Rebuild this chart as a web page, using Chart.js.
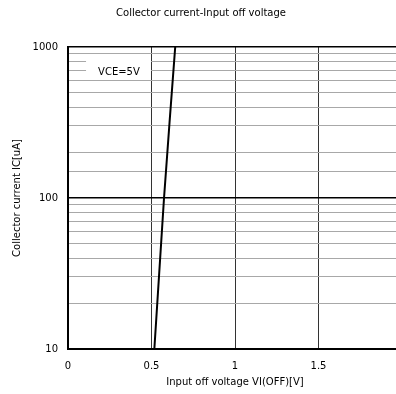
<!DOCTYPE html>
<html>
<head>
<meta charset="utf-8">
<script src="https://cdn.jsdelivr.net/npm/chart.js@4/dist/chart.umd.min.js"></script>
<style>
  html, body { margin: 0; padding: 0; background: #fff; overflow: hidden; }
  #wrap { width: 410px; height: 394px; }
</style>
</head>
<body>
<div id="wrap"><canvas id="chart" width="410" height="394"></canvas></div>
<script>
// curve: input off voltage [V] vs collector current [uA]
const voltage = [0.517, 0.546, 0.575, 0.608, 0.642];
const current = [10, 31.6, 100, 316, 1000];

const xTicks = [0, 0.5, 1, 1.5];
const yLabels = [10, 100, 1000];
const conditionLabel = 'VCE=5V';
const FONT = '"DejaVu Sans", sans-serif';

// white box with the measurement condition, placed by data values
const conditionPlugin = {
    id: 'condition',
    afterDatasetsDraw(chart) {
        const { ctx, scales: { x, y } } = chart;
        const x0 = x.getPixelForValue(0.108), x1 = x.getPixelForValue(0.497);
        const y0 = y.getPixelForValue(858), y1 = y.getPixelForValue(614);
        ctx.save();
        ctx.fillStyle = '#fff';
        ctx.fillRect(x0, y0, x1 - x0, y1 - y0);
        ctx.fillStyle = '#000';
        ctx.font = '10px ' + FONT;
        ctx.textAlign = 'center';
        ctx.textBaseline = 'middle';
        ctx.fillText(conditionLabel, x.getPixelForValue(0.305), y.getPixelForValue(680));
        ctx.restore();
    }
};

new Chart(document.getElementById('chart'), {
    type: 'line',
    data: {
        datasets: [{
            data: voltage.map((v, i) => ({ x: v, y: current[i] })),
            borderColor: '#000',
            borderWidth: 2,
            pointRadius: 0,
            tension: 0,
            fill: false
        }]
    },
    options: {
        responsive: false,
        animation: false,
        layout: { padding: { left: 0, right: 8, top: 0, bottom: 0 } },
        plugins: {
            legend: { display: false },
            tooltip: { enabled: false },
            title: {
                display: true,
                text: 'Collector current-Input off voltage',
                color: '#000',
                font: { family: FONT, size: 10, weight: 'normal', lineHeight: 1.2 },
                padding: { top: 7, bottom: 28 }
            }
        },
        scales: {
            x: {
                type: 'linear',
                min: 0,
                max: 2,
                afterBuildTicks: scale => { scale.ticks = xTicks.map(v => ({ value: v })); },
                afterFit: scale => { scale.height = 45; },
                ticks: {
                    color: '#000',
                    font: { family: FONT, size: 10 },
                    padding: 11,
                    maxRotation: 0,
                    callback: v => String(v)
                },
                grid: {
                    drawTicks: false,
                    color: ctx => ctx.tick && ctx.tick.value === 0 ? 'rgba(0,0,0,0)' : '#333',
                    lineWidth: 1
                },
                border: { display: true, color: '#000', width: 2 },
                title: {
                    display: true,
                    text: 'Input off voltage VI(OFF)[V]',
                    color: '#000',
                    font: { family: FONT, size: 10 },
                    padding: { top: 0, bottom: 6 }
                }
            },
            y: {
                type: 'logarithmic',
                min: 10,
                max: 1000,
                afterFit: scale => { scale.width = 68; },
                ticks: {
                    color: '#000',
                    font: { family: FONT, size: 10 },
                    padding: 10,
                    autoSkip: false,
                    callback: v => yLabels.includes(v) ? String(v) : ''
                },
                grid: {
                    drawTicks: false,
                    color: ctx => yLabels.includes(ctx.tick && ctx.tick.value) ? '#000' : '#a8a8a8',
                    lineWidth: ctx => yLabels.includes(ctx.tick && ctx.tick.value) ? 1.6 : 1
                },
                border: { display: true, color: '#000', width: 2 },
                title: {
                    display: true,
                    text: 'Collector current IC[uA]',
                    color: '#000',
                    font: { family: FONT, size: 10 },
                    padding: { top: 11, bottom: 0 }
                }
            }
        }
    },
    plugins: [conditionPlugin]
});
</script>
</body>
</html>
